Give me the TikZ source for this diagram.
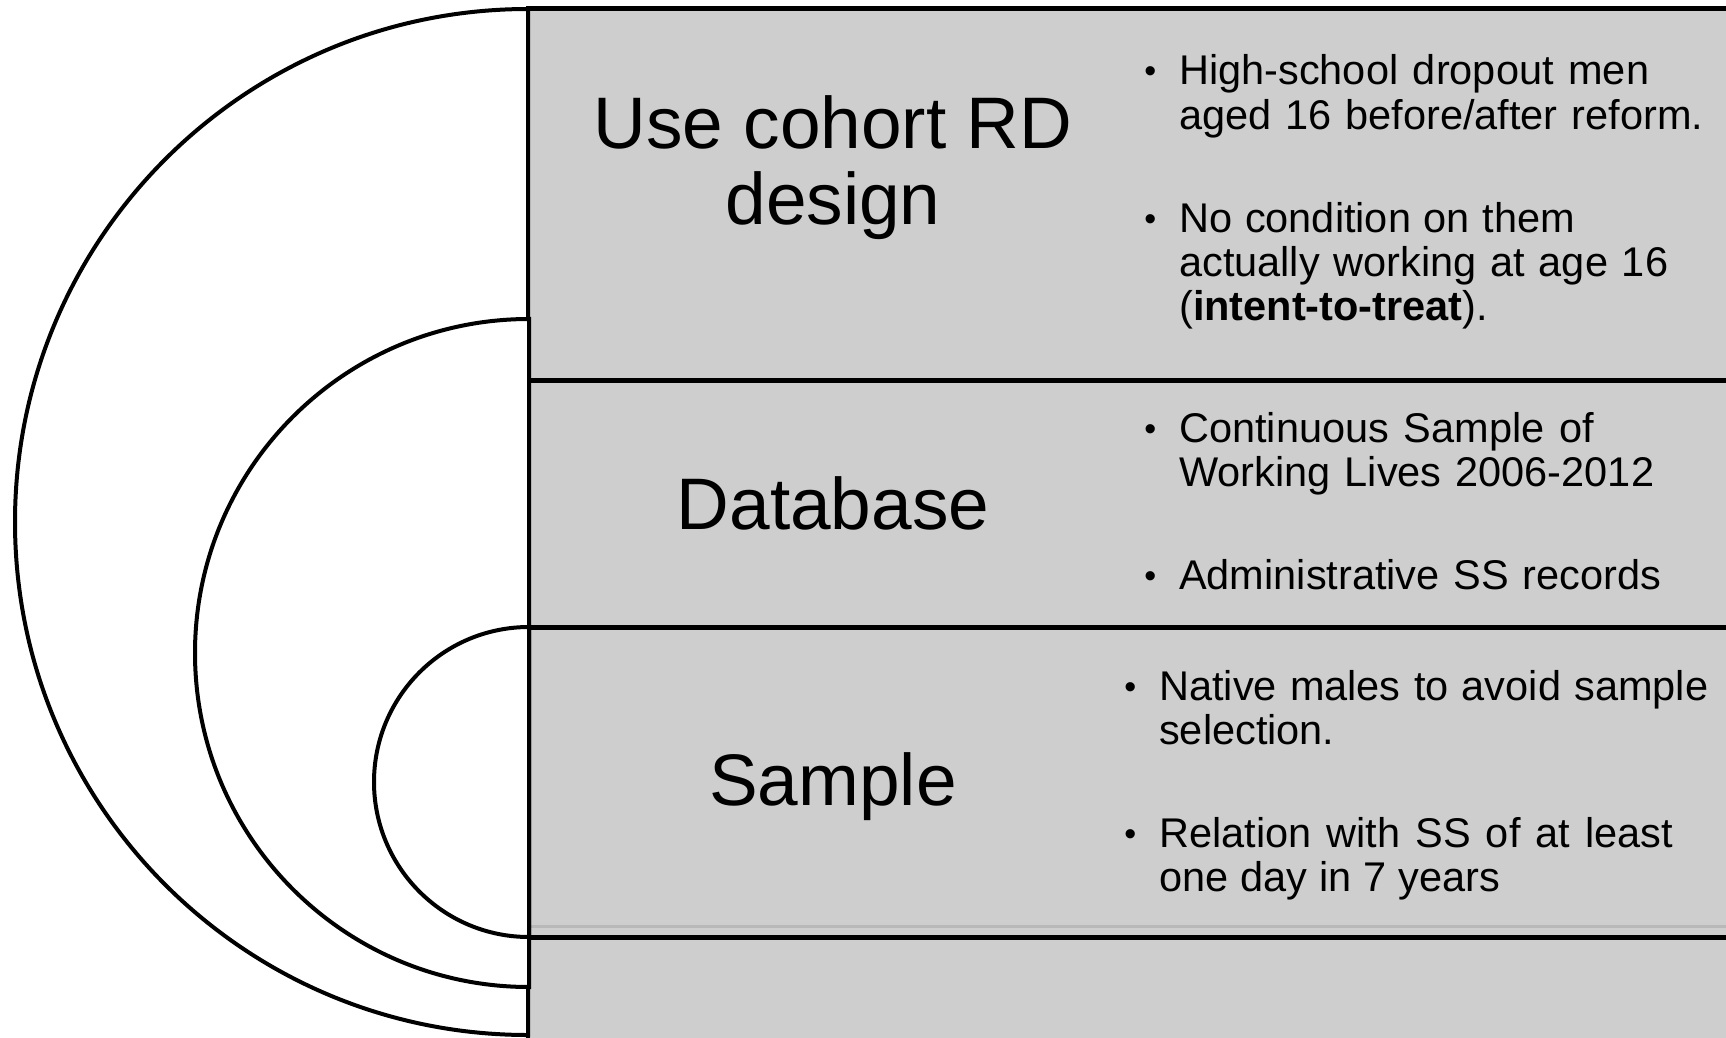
\documentclass[tikz,border=0pt]{standalone}
\usepackage{fontspec}
\setmainfont{Liberation Sans}
\definecolor{panelgray}{RGB}{206,206,206}
\definecolor{shadegray}{RGB}{184,184,184}
\newcommand{\jline}[2]{\makebox[#1pt][s]{#2}}
\newcommand{\bulletmark}{\llap{\raisebox{2pt}{\fontsize{34}{34}\selectfont\textbullet}\hspace{23pt}}}
\begin{document}
\begin{tikzpicture}[x=1pt,y=-1pt,
  titletext/.style={font=\fontsize{73}{76}\selectfont, inner sep=0pt, anchor=base},
  bullettext/.style={font=\fontsize{41.5}{44}\selectfont, inner sep=0pt, anchor=base west},
  sepline/.style={line width=5pt},
  halfdisc/.style={line width=4pt, fill=white, draw=black},
]
\useasboundingbox (0,0) rectangle (1726,1038);
% panel
\fill[panelgray] (528,9) rectangle (1726,1038);
\draw[shadegray, line width=3pt] (528,926) -- (1726,926);
\draw[sepline] (526,9) -- (1726,9);
\draw[sepline] (528,380) -- (1726,380);
\draw[sepline] (528,627) -- (1726,627);
\draw[sepline] (528,937) -- (1726,937);
\draw[line width=4pt] (528,9) -- (528,1038);
% nested half discs
\draw[halfdisc] (528,9) arc[start angle=270, end angle=90, radius=513] -- cycle;
\draw[halfdisc] (529,319) arc[start angle=270, end angle=90, radius=334] -- cycle;
\draw[halfdisc] (529,627) arc[start angle=270, end angle=90, radius=155] -- cycle;
% titles
\node[titletext] (t1) at (833,149) {\begin{tabular}[t]{@{}c@{}}Use cohort RD\\design\end{tabular}};
\node[titletext] (t2) at (833,529) {Database};
\node[titletext] (t3) at (833,805) {Sample};
% bullets
\node[bullettext] (b1) at (1179,85) {\begin{tabular}[t]{@{}l@{}}\bulletmark\jline{470}{High-school dropout men}\\\jline{524}{aged 16 before/after reform.}\end{tabular}};
\node[bullettext] (b2) at (1179,232) {\begin{tabular}[t]{@{}l@{}}\bulletmark\jline{396}{No condition on them}\\\jline{489}{actually working at age 16}\\(\textbf{intent-to-treat}).\end{tabular}};
\node[bullettext] (b3) at (1179,442) {\begin{tabular}[t]{@{}l@{}}\bulletmark\jline{415}{Continuous Sample of}\\\jline{475}{Working Lives 2006-2012}\end{tabular}};
\node[bullettext] (b4) at (1179,589) {\begin{tabular}[t]{@{}l@{}}\bulletmark\jline{482}{Administrative SS records}\end{tabular}};
\node[bullettext] (b5) at (1159,700) {\begin{tabular}[t]{@{}l@{}}\bulletmark\jline{549}{Native males to avoid sample}\\selection.\end{tabular}};
\node[bullettext] (b6) at (1159,847) {\begin{tabular}[t]{@{}l@{}}\bulletmark\jline{514}{Relation with SS of at least}\\\jline{341}{one day in 7 years}\end{tabular}};
\end{tikzpicture}
\end{document}
